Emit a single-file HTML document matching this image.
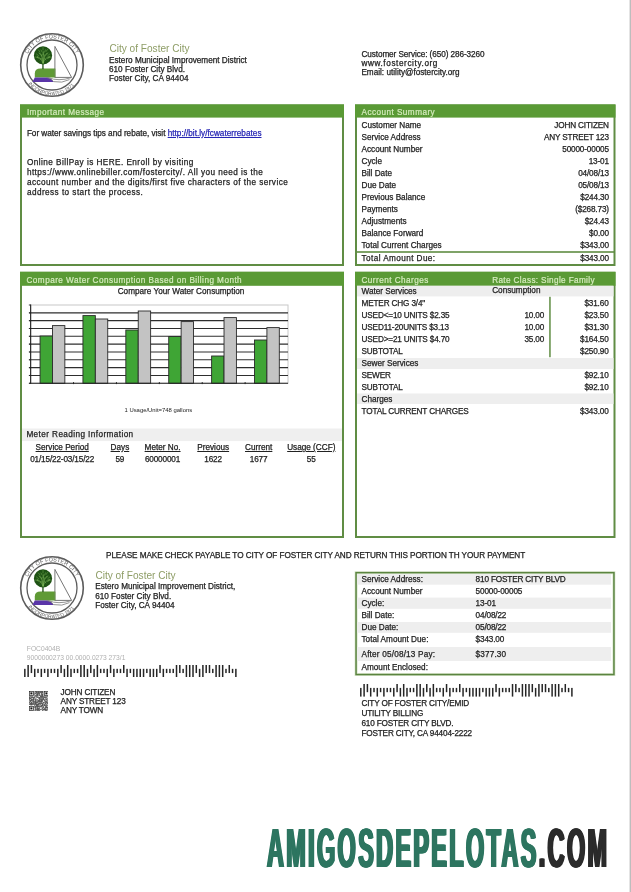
<!DOCTYPE html>
<html lang="en"><head><meta charset="utf-8"><title>City of Foster City - Utility Bill</title>
<style>
html,body{margin:0;padding:0;background:#fff;}
body{width:631px;height:892px;position:relative;overflow:hidden;font-family:"Liberation Sans",sans-serif;font-size:8.2px;color:#222;}
.t{position:absolute;white-space:nowrap;line-height:12px;-webkit-text-stroke:0.25px currentColor;}
.r{position:absolute;}
.lk{color:#2626b4;text-decoration:underline;}
.u{text-decoration:underline;}
.wm{position:absolute;left:266.7px;top:807.5px;font-weight:bold;font-size:56px;line-height:80px;letter-spacing:5.66px;white-space:nowrap;transform-origin:0 0;transform:scaleX(0.418);text-shadow:1.2px 0 0 currentColor,-1.2px 0 0 currentColor,2.43px 0 0 currentColor,-2.43px 0 0 currentColor;}
</style></head>
<body>
<svg class="r" style="left:0;top:0" width="631" height="892" viewBox="0 0 631 892"><rect x="21.00" y="105.50" width="322.00" height="159.50" fill="none" stroke="#608d44" stroke-width="2"/><rect x="20.00" y="104.40" width="324.00" height="13.20" fill="#5a9a35"/><rect x="356.00" y="105.50" width="258.50" height="159.50" fill="none" stroke="#608d44" stroke-width="2"/><rect x="355.00" y="104.40" width="260.50" height="13.20" fill="#5a9a35"/><rect x="356.00" y="251.20" width="258.50" height="1.60" fill="#608d44"/><rect x="21.00" y="272.80" width="322.00" height="264.20" fill="none" stroke="#608d44" stroke-width="2"/><rect x="20.00" y="271.80" width="324.00" height="14.00" fill="#5a9a35"/><rect x="22.00" y="428.50" width="320.00" height="12.60" fill="#efefef"/><rect x="356.00" y="272.80" width="258.50" height="264.20" fill="none" stroke="#608d44" stroke-width="2"/><rect x="355.00" y="271.80" width="260.50" height="14.00" fill="#5a9a35"/><rect x="357.00" y="285.80" width="256.50" height="10.60" fill="#eeeeee"/><rect x="357.00" y="358.00" width="256.50" height="11.00" fill="#eeeeee"/><rect x="357.00" y="393.50" width="256.50" height="10.50" fill="#eeeeee"/><rect x="549.20" y="296.80" width="1.50" height="60.40" fill="#608d44"/><rect x="356.10" y="572.70" width="257.80" height="101.80" fill="none" stroke="#dbe8cf" stroke-width="3"/><rect x="356.05" y="572.65" width="257.90" height="101.90" fill="none" stroke="#5b8440" stroke-width="1.5"/><rect x="357.00" y="574.00" width="254.00" height="10.70" fill="#eeeeee"/><rect x="357.00" y="597.60" width="254.00" height="11.20" fill="#eeeeee"/><rect x="357.00" y="622.00" width="254.00" height="10.80" fill="#eeeeee"/><rect x="357.00" y="647.00" width="254.00" height="14.00" fill="#eeeeee"/><rect x="629.00" y="0.00" width="1.00" height="892.00" fill="#e4e4e4"/><rect x="630.00" y="0.00" width="1.00" height="892.00" fill="#bdbdbd"/></svg>
<svg class="r" style="left:15.50px;top:28.90px" width="72" height="72" viewBox="-36 -36 72 72"><defs><path id="ta1" d="M-24.11,-11.24 A26.6,26.6 0 0 1 24.11,-11.24"/><path id="ba1" d="M-24.51,17.81 A30.3,30.3 0 0 0 23.21,19.48"/></defs><circle r="31.3" fill="#fff" stroke="#5c5c5c" stroke-width="1.6"/><circle r="25" fill="none" stroke="#5c5c5c" stroke-width="1.3"/><path d="M-17.2,12.4 V8.6 Q-17.2,3.6 -11.5,3.6 H3.2 V12.4 Z" fill="#5f9a35"/><path d="M-17.2,12.4 H-5.5 Q-1,12.6 1.6,16.9 H-19.6 Z" fill="#5a35a8"/><path d="M-5.5,12.4 Q-1,12.6 1.6,16.6 Q10,18.6 17.5,14.6" fill="none" stroke="#808080" stroke-width="0.85"/><path d="M-3.5,12.6 Q6,16.8 19.6,12.6" fill="none" stroke="#808080" stroke-width="0.85"/><path d="M2.9,12.4 V-18.6 L19.6,12.4 Z" fill="#fff" stroke="#777" stroke-width="1" stroke-linejoin="round"/><rect x="2.4" y="3.6" width="1" height="8.8" fill="#5f9a35"/><rect x="-9.7" y="-1.5" width="1.3" height="5.6" fill="#1f4f12"/><circle cx="-9" cy="-9.6" r="9.1" fill="#1e5214"/><path d="M-8.9,-2 Q-10.09,-7.02 -14.84,-8.70 M-8.9,-2 Q-9.56,-9.50 -12.20,-11.99 M-8.9,-2 Q-8.84,-10.40 -8.60,-13.20 M-8.9,-2 Q-8.12,-9.50 -5.00,-11.99 M-8.9,-2 Q-7.59,-7.02 -2.36,-8.70" fill="none" stroke="#7fb85a" stroke-width="0.7" stroke-linecap="round" opacity="0.85"/><path d="M-13,-12 l1.6,2 M-11,-15 l1.2,2.2 M-6.5,-15.2 l-1,2.4 M-4,-12 l-1.6,2 M-2.6,-7.5 l-2,1 M-14.8,-7.5 l2,1" fill="none" stroke="#7fb85a" stroke-width="0.6" stroke-linecap="round" opacity="0.8"/><path d="M-15.5,-11 l2,1.6 M-13.5,-15 l1.5,2 M-9,-17.5 l0,2.5 M-4.5,-15.5 l-1.4,2 M-2.2,-11 l-2,1.6 M-16.5,-8 l2.2,0.6 M-1.4,-8 l-2.2,0.6 M-12,-5 l1.4,-1.6 M-6,-5 l-1.4,-1.6 M-10.5,-9 l0.8,-2 M-7.5,-9 l-0.8,-2" fill="none" stroke="#8cc865" stroke-width="0.55" stroke-linecap="round" opacity="0.75"/><text font-family="Liberation Sans, sans-serif" font-size="5.5" fill="#5e5e5e" letter-spacing="0.05"><textPath href="#ta1" startOffset="50%" text-anchor="middle">CITY OF FOSTER CITY</textPath></text><text font-family="Liberation Sans, sans-serif" font-size="5.0" fill="#5e5e5e" letter-spacing="0"><textPath href="#ba1" startOffset="50%" text-anchor="middle">INCORPORATED 1971</textPath></text></svg>
<div class="t" style="top:43px;font-size:10.1px;color:#8e9d66;left:109.40px;-webkit-text-stroke:0;">City of Foster City</div>
<div class="t" style="top:55px;left:109.00px;">Estero Municipal Improvement District</div>
<div class="t" style="top:64px;left:109.00px;">610 Foster City Blvd.</div>
<div class="t" style="top:73px;left:109.00px;">Foster City, CA 94404</div>
<div class="t" style="top:49px;letter-spacing:-0.08px;left:361.40px;">Customer Service: (650) 286-3260</div>
<div class="t" style="top:58px;letter-spacing:0.6px;left:361.40px;">www.fostercity.org</div>
<div class="t" style="top:67px;left:361.40px;">Email: utility@fostercity.org</div>
<div class="t" style="top:107px;letter-spacing:0.45px;color:#d6ecbf;left:26.90px;-webkit-text-stroke:0.2px;">Important Message</div>
<div class="t" style="top:128px;letter-spacing:-0.03px;left:26.90px;">For water savings tips and rebate, visit <span class="lk" style="letter-spacing:0.02px">http://bit.ly/fcwaterrebates</span></div>
<div class="t" style="top:157px;letter-spacing:0.45px;left:26.90px;">Online BillPay is HERE. Enroll by visiting</div>
<div class="t" style="top:167px;letter-spacing:0.45px;left:26.90px;">https://www.onlinebiller.com/fostercity/. All you need is the</div>
<div class="t" style="top:177px;letter-spacing:0.45px;left:26.90px;">account number and the digits/first five characters of the service</div>
<div class="t" style="top:187px;letter-spacing:0.45px;left:26.90px;">address to start the process.</div>
<div class="t" style="top:107px;letter-spacing:0.45px;color:#d6ecbf;left:361.50px;-webkit-text-stroke:0.2px;">Account Summary</div>
<div class="t" style="top:120px;left:361.50px;">Customer Name</div>
<div class="t" style="top:120px;letter-spacing:-0.15px;right:22.15px;">JOHN CITIZEN</div>
<div class="t" style="top:132px;left:361.50px;">Service Address</div>
<div class="t" style="top:132px;letter-spacing:-0.15px;right:22.15px;">ANY STREET 123</div>
<div class="t" style="top:144px;left:361.50px;">Account Number</div>
<div class="t" style="top:144px;letter-spacing:-0.15px;right:22.15px;">50000-00005</div>
<div class="t" style="top:156px;left:361.50px;">Cycle</div>
<div class="t" style="top:156px;letter-spacing:-0.15px;right:22.15px;">13-01</div>
<div class="t" style="top:168px;left:361.50px;">Bill Date</div>
<div class="t" style="top:168px;letter-spacing:-0.15px;right:22.15px;">04/08/13</div>
<div class="t" style="top:180px;left:361.50px;">Due Date</div>
<div class="t" style="top:180px;letter-spacing:-0.15px;right:22.15px;">05/08/13</div>
<div class="t" style="top:192px;left:361.50px;">Previous Balance</div>
<div class="t" style="top:192px;letter-spacing:-0.15px;right:22.15px;">$244.30</div>
<div class="t" style="top:204px;left:361.50px;">Payments</div>
<div class="t" style="top:204px;letter-spacing:-0.15px;right:22.15px;">($268.73)</div>
<div class="t" style="top:216px;left:361.50px;">Adjustments</div>
<div class="t" style="top:216px;letter-spacing:-0.15px;right:22.15px;">$24.43</div>
<div class="t" style="top:228px;left:361.50px;">Balance Forward</div>
<div class="t" style="top:228px;letter-spacing:-0.15px;right:22.15px;">$0.00</div>
<div class="t" style="top:240px;left:361.50px;">Total Current Charges</div>
<div class="t" style="top:240px;letter-spacing:-0.15px;right:22.15px;">$343.00</div>
<div class="t" style="top:253px;letter-spacing:0.42px;left:361.50px;">Total Amount Due:</div>
<div class="t" style="top:253px;letter-spacing:-0.15px;right:22.15px;">$343.00</div>
<div class="t" style="top:275px;letter-spacing:0.45px;color:#d6ecbf;left:26.50px;-webkit-text-stroke:0.2px;">Compare Water Consumption Based on Billing Month</div>
<div class="t" style="top:286px;left:117.70px;">Compare Your Water Consumption</div>
<svg class="r" style="left:0;top:295px" width="344" height="100" viewBox="0 295 344 100" shape-rendering="auto"><rect x="30.65" y="305.0" width="257.35" height="78.30000000000001" fill="#fff" stroke="#c8c8c8" stroke-width="1"/><line x1="29.15" y1="312.83" x2="288.0" y2="312.83" stroke="#2e2e2e" stroke-width="1.1"/><line x1="29.15" y1="320.66" x2="288.0" y2="320.66" stroke="#2e2e2e" stroke-width="1.1"/><line x1="29.15" y1="328.49" x2="288.0" y2="328.49" stroke="#2e2e2e" stroke-width="1.1"/><line x1="29.15" y1="336.32" x2="288.0" y2="336.32" stroke="#2e2e2e" stroke-width="1.1"/><line x1="29.15" y1="344.15" x2="288.0" y2="344.15" stroke="#2e2e2e" stroke-width="1.1"/><line x1="29.15" y1="351.98" x2="288.0" y2="351.98" stroke="#2e2e2e" stroke-width="1.1"/><line x1="29.15" y1="359.81" x2="288.0" y2="359.81" stroke="#2e2e2e" stroke-width="1.1"/><line x1="29.15" y1="367.64" x2="288.0" y2="367.64" stroke="#2e2e2e" stroke-width="1.1"/><line x1="29.15" y1="375.47" x2="288.0" y2="375.47" stroke="#2e2e2e" stroke-width="1.1"/><rect x="40.05" y="336" width="12.4" height="47.30" fill="#3fa535" stroke="#2a2a2a" stroke-width="0.9"/><rect x="52.45" y="325.6" width="12.4" height="57.70" fill="#c3c3c3" stroke="#2a2a2a" stroke-width="0.9"/><rect x="82.94" y="315.6" width="12.4" height="67.70" fill="#3fa535" stroke="#2a2a2a" stroke-width="0.9"/><rect x="95.34" y="319" width="12.4" height="64.30" fill="#c3c3c3" stroke="#2a2a2a" stroke-width="0.9"/><rect x="125.83" y="330" width="12.4" height="53.30" fill="#3fa535" stroke="#2a2a2a" stroke-width="0.9"/><rect x="138.23" y="311" width="12.4" height="72.30" fill="#c3c3c3" stroke="#2a2a2a" stroke-width="0.9"/><rect x="168.73" y="336.5" width="12.4" height="46.80" fill="#3fa535" stroke="#2a2a2a" stroke-width="0.9"/><rect x="181.13" y="321.6" width="12.4" height="61.70" fill="#c3c3c3" stroke="#2a2a2a" stroke-width="0.9"/><rect x="211.62" y="356" width="12.4" height="27.30" fill="#3fa535" stroke="#2a2a2a" stroke-width="0.9"/><rect x="224.02" y="317.6" width="12.4" height="65.70" fill="#c3c3c3" stroke="#2a2a2a" stroke-width="0.9"/><rect x="254.51" y="340" width="12.4" height="43.30" fill="#3fa535" stroke="#2a2a2a" stroke-width="0.9"/><rect x="266.91" y="327.6" width="12.4" height="55.70" fill="#c3c3c3" stroke="#2a2a2a" stroke-width="0.9"/><line x1="30.65" y1="304.5" x2="30.65" y2="383.8" stroke="#222" stroke-width="1.1"/><line x1="29.15" y1="383.3" x2="288.0" y2="383.3" stroke="#222" stroke-width="1.1"/><line x1="28.849999999999998" y1="305.00" x2="30.65" y2="305.00" stroke="#222" stroke-width="0.9"/><line x1="28.849999999999998" y1="312.83" x2="30.65" y2="312.83" stroke="#222" stroke-width="0.9"/><line x1="28.849999999999998" y1="320.66" x2="30.65" y2="320.66" stroke="#222" stroke-width="0.9"/><line x1="28.849999999999998" y1="328.49" x2="30.65" y2="328.49" stroke="#222" stroke-width="0.9"/><line x1="28.849999999999998" y1="336.32" x2="30.65" y2="336.32" stroke="#222" stroke-width="0.9"/><line x1="28.849999999999998" y1="344.15" x2="30.65" y2="344.15" stroke="#222" stroke-width="0.9"/><line x1="28.849999999999998" y1="351.98" x2="30.65" y2="351.98" stroke="#222" stroke-width="0.9"/><line x1="28.849999999999998" y1="359.81" x2="30.65" y2="359.81" stroke="#222" stroke-width="0.9"/><line x1="28.849999999999998" y1="367.64" x2="30.65" y2="367.64" stroke="#222" stroke-width="0.9"/><line x1="28.849999999999998" y1="375.47" x2="30.65" y2="375.47" stroke="#222" stroke-width="0.9"/><line x1="28.849999999999998" y1="383.30" x2="30.65" y2="383.30" stroke="#222" stroke-width="0.9"/><line x1="73.54" y1="382.1" x2="73.54" y2="384.1" stroke="#222" stroke-width="1"/><line x1="116.43" y1="382.1" x2="116.43" y2="384.1" stroke="#222" stroke-width="1"/><line x1="159.33" y1="382.1" x2="159.33" y2="384.1" stroke="#222" stroke-width="1"/><line x1="202.22" y1="382.1" x2="202.22" y2="384.1" stroke="#222" stroke-width="1"/><line x1="245.11" y1="382.1" x2="245.11" y2="384.1" stroke="#222" stroke-width="1"/></svg>
<div class="t" style="top:404px;font-size:5.9px;left:124.50px;-webkit-text-stroke:0;">1 Usage/Unit=748 gallons</div>
<div class="t" style="top:429px;letter-spacing:0.41px;left:26.40px;">Meter Reading Information</div>
<div class="t" style="top:442px;left:-87.80px;width:300px;text-align:center;"><span class="u">Service Period</span></div>
<div class="t" style="top:454px;letter-spacing:-0.15px;left:-87.88px;width:300px;text-align:center;">01/15/22-03/15/22</div>
<div class="t" style="top:442px;left:-30.10px;width:300px;text-align:center;"><span class="u">Days</span></div>
<div class="t" style="top:454px;letter-spacing:-0.15px;left:-30.17px;width:300px;text-align:center;">59</div>
<div class="t" style="top:442px;left:12.60px;width:300px;text-align:center;"><span class="u">Meter No.</span></div>
<div class="t" style="top:454px;letter-spacing:-0.15px;left:12.52px;width:300px;text-align:center;">60000001</div>
<div class="t" style="top:442px;left:63.20px;width:300px;text-align:center;"><span class="u">Previous</span></div>
<div class="t" style="top:454px;letter-spacing:-0.15px;left:63.12px;width:300px;text-align:center;">1622</div>
<div class="t" style="top:442px;left:108.70px;width:300px;text-align:center;"><span class="u">Current</span></div>
<div class="t" style="top:454px;letter-spacing:-0.15px;left:108.62px;width:300px;text-align:center;">1677</div>
<div class="t" style="top:442px;left:161.30px;width:300px;text-align:center;"><span class="u">Usage (CCF)</span></div>
<div class="t" style="top:454px;letter-spacing:-0.15px;left:161.23px;width:300px;text-align:center;">55</div>
<div class="t" style="top:275px;letter-spacing:0.45px;color:#d6ecbf;left:361.50px;-webkit-text-stroke:0.2px;">Current Charges</div>
<div class="t" style="top:275px;letter-spacing:0.36px;color:#d6ecbf;left:492.20px;-webkit-text-stroke:0.2px;">Rate Class: Single Family</div>
<div class="t" style="top:285px;left:492.20px;">Consumption</div>
<div class="t" style="top:286px;left:361.50px;">Water Services</div>
<div class="t" style="top:298px;letter-spacing:-0.15px;left:361.50px;">METER CHG 3/4"</div>
<div class="t" style="top:298px;letter-spacing:-0.15px;right:22.45px;">$31.60</div>
<div class="t" style="top:310px;letter-spacing:-0.15px;left:361.50px;">USED&lt;=10 UNITS $2.35</div>
<div class="t" style="top:310px;letter-spacing:-0.15px;right:86.85px;">10.00</div>
<div class="t" style="top:310px;letter-spacing:-0.15px;right:22.45px;">$23.50</div>
<div class="t" style="top:322px;letter-spacing:-0.15px;left:361.50px;">USED11-20UNITS $3.13</div>
<div class="t" style="top:322px;letter-spacing:-0.15px;right:86.85px;">10.00</div>
<div class="t" style="top:322px;letter-spacing:-0.15px;right:22.45px;">$31.30</div>
<div class="t" style="top:334px;letter-spacing:-0.15px;left:361.50px;">USED&gt;=21 UNITS $4.70</div>
<div class="t" style="top:334px;letter-spacing:-0.15px;right:86.85px;">35.00</div>
<div class="t" style="top:334px;letter-spacing:-0.15px;right:22.45px;">$164.50</div>
<div class="t" style="top:346px;letter-spacing:-0.15px;left:361.50px;">SUBTOTAL</div>
<div class="t" style="top:346px;letter-spacing:-0.15px;right:22.45px;">$250.90</div>
<div class="t" style="top:358px;left:361.50px;">Sewer Services</div>
<div class="t" style="top:370px;letter-spacing:-0.15px;left:361.50px;">SEWER</div>
<div class="t" style="top:370px;letter-spacing:-0.15px;right:22.45px;">$92.10</div>
<div class="t" style="top:382px;letter-spacing:-0.15px;left:361.50px;">SUBTOTAL</div>
<div class="t" style="top:382px;letter-spacing:-0.15px;right:22.45px;">$92.10</div>
<div class="t" style="top:394px;left:361.50px;">Charges</div>
<div class="t" style="top:406px;letter-spacing:-0.15px;left:361.50px;">TOTAL CURRENT CHARGES</div>
<div class="t" style="top:406px;letter-spacing:-0.15px;right:22.45px;">$343.00</div>
<div class="t" style="top:550px;letter-spacing:-0.07px;left:106.00px;">PLEASE MAKE CHECK PAYABLE TO CITY OF FOSTER CITY AND RETURN THIS PORTION TH YOUR PAYMENT</div>
<svg class="r" style="left:15.50px;top:552.40px" width="72" height="72" viewBox="-36 -36 72 72"><defs><path id="ta2" d="M-24.11,-11.24 A26.6,26.6 0 0 1 24.11,-11.24"/><path id="ba2" d="M-24.51,17.81 A30.3,30.3 0 0 0 23.21,19.48"/></defs><circle r="31.3" fill="#fff" stroke="#5c5c5c" stroke-width="1.6"/><circle r="25" fill="none" stroke="#5c5c5c" stroke-width="1.3"/><path d="M-17.2,12.4 V8.6 Q-17.2,3.6 -11.5,3.6 H3.2 V12.4 Z" fill="#5f9a35"/><path d="M-17.2,12.4 H-5.5 Q-1,12.6 1.6,16.9 H-19.6 Z" fill="#5a35a8"/><path d="M-5.5,12.4 Q-1,12.6 1.6,16.6 Q10,18.6 17.5,14.6" fill="none" stroke="#808080" stroke-width="0.85"/><path d="M-3.5,12.6 Q6,16.8 19.6,12.6" fill="none" stroke="#808080" stroke-width="0.85"/><path d="M2.9,12.4 V-18.6 L19.6,12.4 Z" fill="#fff" stroke="#777" stroke-width="1" stroke-linejoin="round"/><rect x="2.4" y="3.6" width="1" height="8.8" fill="#5f9a35"/><rect x="-9.7" y="-1.5" width="1.3" height="5.6" fill="#1f4f12"/><circle cx="-9" cy="-9.6" r="9.1" fill="#1e5214"/><path d="M-8.9,-2 Q-10.09,-7.02 -14.84,-8.70 M-8.9,-2 Q-9.56,-9.50 -12.20,-11.99 M-8.9,-2 Q-8.84,-10.40 -8.60,-13.20 M-8.9,-2 Q-8.12,-9.50 -5.00,-11.99 M-8.9,-2 Q-7.59,-7.02 -2.36,-8.70" fill="none" stroke="#7fb85a" stroke-width="0.7" stroke-linecap="round" opacity="0.85"/><path d="M-13,-12 l1.6,2 M-11,-15 l1.2,2.2 M-6.5,-15.2 l-1,2.4 M-4,-12 l-1.6,2 M-2.6,-7.5 l-2,1 M-14.8,-7.5 l2,1" fill="none" stroke="#7fb85a" stroke-width="0.6" stroke-linecap="round" opacity="0.8"/><path d="M-15.5,-11 l2,1.6 M-13.5,-15 l1.5,2 M-9,-17.5 l0,2.5 M-4.5,-15.5 l-1.4,2 M-2.2,-11 l-2,1.6 M-16.5,-8 l2.2,0.6 M-1.4,-8 l-2.2,0.6 M-12,-5 l1.4,-1.6 M-6,-5 l-1.4,-1.6 M-10.5,-9 l0.8,-2 M-7.5,-9 l-0.8,-2" fill="none" stroke="#8cc865" stroke-width="0.55" stroke-linecap="round" opacity="0.75"/><text font-family="Liberation Sans, sans-serif" font-size="5.5" fill="#5e5e5e" letter-spacing="0.05"><textPath href="#ta2" startOffset="50%" text-anchor="middle">CITY OF FOSTER CITY</textPath></text><text font-family="Liberation Sans, sans-serif" font-size="5.0" fill="#5e5e5e" letter-spacing="0"><textPath href="#ba2" startOffset="50%" text-anchor="middle">INCORPORATED 1971</textPath></text></svg>
<div class="t" style="top:570px;font-size:10.1px;color:#8e9d66;left:95.40px;-webkit-text-stroke:0;">City of Foster City</div>
<div class="t" style="top:581px;left:95.20px;">Estero Municipal Improvement District,</div>
<div class="t" style="top:591px;left:95.20px;">610 Foster City Blvd.</div>
<div class="t" style="top:600px;left:95.20px;">Foster City, CA 94404</div>
<div class="t" style="top:574px;left:361.50px;">Service Address:</div>
<div class="t" style="top:574px;letter-spacing:-0.15px;left:475.60px;">810 FOSTER CITY BLVD</div>
<div class="t" style="top:586px;left:361.50px;">Account Number</div>
<div class="t" style="top:586px;letter-spacing:-0.15px;left:475.60px;">50000-00005</div>
<div class="t" style="top:598px;left:361.50px;">Cycle:</div>
<div class="t" style="top:598px;letter-spacing:-0.15px;left:475.60px;">13-01</div>
<div class="t" style="top:610px;left:361.50px;">Bill Date:</div>
<div class="t" style="top:610px;letter-spacing:-0.15px;left:475.60px;">04/08/22</div>
<div class="t" style="top:622px;left:361.50px;">Due Date:</div>
<div class="t" style="top:622px;letter-spacing:-0.15px;left:475.60px;">05/08/22</div>
<div class="t" style="top:634px;left:361.50px;">Total Amount Due:</div>
<div class="t" style="top:634px;letter-spacing:-0.15px;left:475.60px;">$343.00</div>
<div class="t" style="top:649px;letter-spacing:0.19px;left:361.50px;">After 05/08/13 Pay:</div>
<div class="t" style="top:649px;letter-spacing:0.15px;left:475.60px;">$377.30</div>
<div class="t" style="top:662px;left:361.50px;">Amount Enclosed:</div>
<div class="t" style="top:643px;font-size:6.7px;color:#b0b0b0;left:26.80px;-webkit-text-stroke:0;">FOC0404B</div>
<div class="t" style="top:652px;font-size:6.7px;color:#b0b0b0;left:26.80px;-webkit-text-stroke:0;">9000000273 00.0000.0273 273/1</div>
<svg class="r" style="left:24.20px;top:665.00px" width="214" height="12.40" viewBox="0 0 214 12.40"><rect x="0.00" y="3.84" width="1.5" height="8.56" fill="#262626"/><rect x="3.30" y="0.00" width="1.5" height="12.40" fill="#262626"/><rect x="6.60" y="0.00" width="1.5" height="8.06" fill="#262626"/><rect x="9.90" y="3.84" width="1.5" height="8.56" fill="#262626"/><rect x="13.20" y="3.84" width="1.5" height="4.22" fill="#262626"/><rect x="16.50" y="3.84" width="1.5" height="8.56" fill="#262626"/><rect x="19.80" y="3.84" width="1.5" height="4.22" fill="#262626"/><rect x="23.10" y="3.84" width="1.5" height="8.56" fill="#262626"/><rect x="26.40" y="3.84" width="1.5" height="4.22" fill="#262626"/><rect x="29.70" y="3.84" width="1.5" height="4.22" fill="#262626"/><rect x="33.00" y="3.84" width="1.5" height="8.56" fill="#262626"/><rect x="36.30" y="0.00" width="1.5" height="8.06" fill="#262626"/><rect x="39.60" y="3.84" width="1.5" height="8.56" fill="#262626"/><rect x="42.90" y="0.00" width="1.5" height="12.40" fill="#262626"/><rect x="46.20" y="3.84" width="1.5" height="8.56" fill="#262626"/><rect x="49.50" y="3.84" width="1.5" height="4.22" fill="#262626"/><rect x="52.80" y="3.84" width="1.5" height="4.22" fill="#262626"/><rect x="56.10" y="0.00" width="1.5" height="12.40" fill="#262626"/><rect x="59.40" y="0.00" width="1.5" height="12.40" fill="#262626"/><rect x="62.70" y="3.84" width="1.5" height="8.56" fill="#262626"/><rect x="66.00" y="0.00" width="1.5" height="8.06" fill="#262626"/><rect x="69.30" y="3.84" width="1.5" height="8.56" fill="#262626"/><rect x="72.60" y="0.00" width="1.5" height="12.40" fill="#262626"/><rect x="75.90" y="3.84" width="1.5" height="4.22" fill="#262626"/><rect x="79.20" y="3.84" width="1.5" height="4.22" fill="#262626"/><rect x="82.50" y="3.84" width="1.5" height="8.56" fill="#262626"/><rect x="85.80" y="0.00" width="1.5" height="8.06" fill="#262626"/><rect x="89.10" y="3.84" width="1.5" height="8.56" fill="#262626"/><rect x="92.40" y="3.84" width="1.5" height="4.22" fill="#262626"/><rect x="95.70" y="3.84" width="1.5" height="4.22" fill="#262626"/><rect x="99.00" y="0.00" width="1.5" height="8.06" fill="#262626"/><rect x="102.30" y="3.84" width="1.5" height="8.56" fill="#262626"/><rect x="105.60" y="3.84" width="1.5" height="4.22" fill="#262626"/><rect x="108.90" y="3.84" width="1.5" height="8.56" fill="#262626"/><rect x="112.20" y="3.84" width="1.5" height="8.56" fill="#262626"/><rect x="115.50" y="3.84" width="1.5" height="8.56" fill="#262626"/><rect x="118.80" y="3.84" width="1.5" height="8.56" fill="#262626"/><rect x="122.10" y="3.84" width="1.5" height="4.22" fill="#262626"/><rect x="125.40" y="3.84" width="1.5" height="8.56" fill="#262626"/><rect x="128.70" y="3.84" width="1.5" height="8.56" fill="#262626"/><rect x="132.00" y="3.84" width="1.5" height="8.56" fill="#262626"/><rect x="135.30" y="0.00" width="1.5" height="8.06" fill="#262626"/><rect x="138.60" y="3.84" width="1.5" height="8.56" fill="#262626"/><rect x="141.90" y="3.84" width="1.5" height="4.22" fill="#262626"/><rect x="145.20" y="3.84" width="1.5" height="4.22" fill="#262626"/><rect x="148.50" y="3.84" width="1.5" height="4.22" fill="#262626"/><rect x="151.80" y="0.00" width="1.5" height="12.40" fill="#262626"/><rect x="155.10" y="0.00" width="1.5" height="8.06" fill="#262626"/><rect x="158.40" y="3.84" width="1.5" height="4.22" fill="#262626"/><rect x="161.70" y="0.00" width="1.5" height="12.40" fill="#262626"/><rect x="165.00" y="0.00" width="1.5" height="12.40" fill="#262626"/><rect x="168.30" y="0.00" width="1.5" height="12.40" fill="#262626"/><rect x="171.60" y="0.00" width="1.5" height="8.06" fill="#262626"/><rect x="174.90" y="3.84" width="1.5" height="8.56" fill="#262626"/><rect x="178.20" y="0.00" width="1.5" height="12.40" fill="#262626"/><rect x="181.50" y="0.00" width="1.5" height="8.06" fill="#262626"/><rect x="184.80" y="0.00" width="1.5" height="8.06" fill="#262626"/><rect x="188.10" y="3.84" width="1.5" height="4.22" fill="#262626"/><rect x="191.40" y="0.00" width="1.5" height="12.40" fill="#262626"/><rect x="194.70" y="0.00" width="1.5" height="12.40" fill="#262626"/><rect x="198.00" y="0.00" width="1.5" height="12.40" fill="#262626"/><rect x="201.30" y="3.84" width="1.5" height="4.22" fill="#262626"/><rect x="204.60" y="0.00" width="1.5" height="8.06" fill="#262626"/><rect x="207.90" y="3.84" width="1.5" height="4.22" fill="#262626"/><rect x="211.20" y="3.84" width="1.5" height="8.56" fill="#262626"/></svg>
<svg class="r" style="left:359.60px;top:684.20px" width="214" height="12.60" viewBox="0 0 214 12.60"><rect x="0.00" y="3.91" width="1.5" height="8.69" fill="#262626"/><rect x="3.30" y="0.00" width="1.5" height="12.60" fill="#262626"/><rect x="6.60" y="0.00" width="1.5" height="8.19" fill="#262626"/><rect x="9.90" y="3.91" width="1.5" height="8.69" fill="#262626"/><rect x="13.20" y="3.91" width="1.5" height="4.28" fill="#262626"/><rect x="16.50" y="3.91" width="1.5" height="8.69" fill="#262626"/><rect x="19.80" y="3.91" width="1.5" height="4.28" fill="#262626"/><rect x="23.10" y="3.91" width="1.5" height="8.69" fill="#262626"/><rect x="26.40" y="3.91" width="1.5" height="4.28" fill="#262626"/><rect x="29.70" y="3.91" width="1.5" height="4.28" fill="#262626"/><rect x="33.00" y="3.91" width="1.5" height="8.69" fill="#262626"/><rect x="36.30" y="0.00" width="1.5" height="8.19" fill="#262626"/><rect x="39.60" y="3.91" width="1.5" height="8.69" fill="#262626"/><rect x="42.90" y="0.00" width="1.5" height="12.60" fill="#262626"/><rect x="46.20" y="3.91" width="1.5" height="8.69" fill="#262626"/><rect x="49.50" y="3.91" width="1.5" height="4.28" fill="#262626"/><rect x="52.80" y="3.91" width="1.5" height="4.28" fill="#262626"/><rect x="56.10" y="0.00" width="1.5" height="12.60" fill="#262626"/><rect x="59.40" y="0.00" width="1.5" height="12.60" fill="#262626"/><rect x="62.70" y="3.91" width="1.5" height="8.69" fill="#262626"/><rect x="66.00" y="0.00" width="1.5" height="8.19" fill="#262626"/><rect x="69.30" y="3.91" width="1.5" height="8.69" fill="#262626"/><rect x="72.60" y="0.00" width="1.5" height="12.60" fill="#262626"/><rect x="75.90" y="3.91" width="1.5" height="4.28" fill="#262626"/><rect x="79.20" y="3.91" width="1.5" height="4.28" fill="#262626"/><rect x="82.50" y="3.91" width="1.5" height="8.69" fill="#262626"/><rect x="85.80" y="0.00" width="1.5" height="8.19" fill="#262626"/><rect x="89.10" y="3.91" width="1.5" height="8.69" fill="#262626"/><rect x="92.40" y="3.91" width="1.5" height="4.28" fill="#262626"/><rect x="95.70" y="3.91" width="1.5" height="4.28" fill="#262626"/><rect x="99.00" y="0.00" width="1.5" height="8.19" fill="#262626"/><rect x="102.30" y="3.91" width="1.5" height="8.69" fill="#262626"/><rect x="105.60" y="3.91" width="1.5" height="4.28" fill="#262626"/><rect x="108.90" y="3.91" width="1.5" height="8.69" fill="#262626"/><rect x="112.20" y="3.91" width="1.5" height="8.69" fill="#262626"/><rect x="115.50" y="3.91" width="1.5" height="8.69" fill="#262626"/><rect x="118.80" y="3.91" width="1.5" height="8.69" fill="#262626"/><rect x="122.10" y="3.91" width="1.5" height="4.28" fill="#262626"/><rect x="125.40" y="3.91" width="1.5" height="8.69" fill="#262626"/><rect x="128.70" y="3.91" width="1.5" height="8.69" fill="#262626"/><rect x="132.00" y="3.91" width="1.5" height="8.69" fill="#262626"/><rect x="135.30" y="0.00" width="1.5" height="8.19" fill="#262626"/><rect x="138.60" y="3.91" width="1.5" height="8.69" fill="#262626"/><rect x="141.90" y="3.91" width="1.5" height="4.28" fill="#262626"/><rect x="145.20" y="3.91" width="1.5" height="4.28" fill="#262626"/><rect x="148.50" y="3.91" width="1.5" height="4.28" fill="#262626"/><rect x="151.80" y="0.00" width="1.5" height="12.60" fill="#262626"/><rect x="155.10" y="0.00" width="1.5" height="8.19" fill="#262626"/><rect x="158.40" y="3.91" width="1.5" height="4.28" fill="#262626"/><rect x="161.70" y="0.00" width="1.5" height="12.60" fill="#262626"/><rect x="165.00" y="0.00" width="1.5" height="12.60" fill="#262626"/><rect x="168.30" y="0.00" width="1.5" height="12.60" fill="#262626"/><rect x="171.60" y="0.00" width="1.5" height="8.19" fill="#262626"/><rect x="174.90" y="3.91" width="1.5" height="8.69" fill="#262626"/><rect x="178.20" y="0.00" width="1.5" height="12.60" fill="#262626"/><rect x="181.50" y="0.00" width="1.5" height="8.19" fill="#262626"/><rect x="184.80" y="0.00" width="1.5" height="8.19" fill="#262626"/><rect x="188.10" y="3.91" width="1.5" height="4.28" fill="#262626"/><rect x="191.40" y="0.00" width="1.5" height="12.60" fill="#262626"/><rect x="194.70" y="0.00" width="1.5" height="12.60" fill="#262626"/><rect x="198.00" y="0.00" width="1.5" height="12.60" fill="#262626"/><rect x="201.30" y="3.91" width="1.5" height="4.28" fill="#262626"/><rect x="204.60" y="0.00" width="1.5" height="8.19" fill="#262626"/><rect x="207.90" y="3.91" width="1.5" height="4.28" fill="#262626"/><rect x="211.20" y="3.91" width="1.5" height="8.69" fill="#262626"/></svg>
<svg class="r" style="left:28.6px;top:690.8px" width="19.8" height="19.8" viewBox="0 0 29 29"><rect x="8" y="0" width="1" height="1" fill="#111"/><rect x="9" y="0" width="1" height="1" fill="#111"/><rect x="10" y="0" width="1" height="1" fill="#111"/><rect x="11" y="0" width="1" height="1" fill="#111"/><rect x="12" y="0" width="1" height="1" fill="#111"/><rect x="13" y="0" width="1" height="1" fill="#111"/><rect x="14" y="0" width="1" height="1" fill="#111"/><rect x="15" y="0" width="1" height="1" fill="#111"/><rect x="16" y="0" width="1" height="1" fill="#111"/><rect x="17" y="0" width="1" height="1" fill="#111"/><rect x="18" y="0" width="1" height="1" fill="#111"/><rect x="19" y="0" width="1" height="1" fill="#111"/><rect x="20" y="0" width="1" height="1" fill="#111"/><rect x="9" y="1" width="1" height="1" fill="#111"/><rect x="10" y="1" width="1" height="1" fill="#111"/><rect x="11" y="1" width="1" height="1" fill="#111"/><rect x="13" y="1" width="1" height="1" fill="#111"/><rect x="14" y="1" width="1" height="1" fill="#111"/><rect x="16" y="1" width="1" height="1" fill="#111"/><rect x="18" y="1" width="1" height="1" fill="#111"/><rect x="19" y="1" width="1" height="1" fill="#111"/><rect x="20" y="1" width="1" height="1" fill="#111"/><rect x="8" y="2" width="1" height="1" fill="#111"/><rect x="10" y="2" width="1" height="1" fill="#111"/><rect x="11" y="2" width="1" height="1" fill="#111"/><rect x="12" y="2" width="1" height="1" fill="#111"/><rect x="13" y="2" width="1" height="1" fill="#111"/><rect x="14" y="2" width="1" height="1" fill="#111"/><rect x="15" y="2" width="1" height="1" fill="#111"/><rect x="16" y="2" width="1" height="1" fill="#111"/><rect x="17" y="2" width="1" height="1" fill="#111"/><rect x="18" y="2" width="1" height="1" fill="#111"/><rect x="19" y="2" width="1" height="1" fill="#111"/><rect x="20" y="2" width="1" height="1" fill="#111"/><rect x="8" y="3" width="1" height="1" fill="#111"/><rect x="9" y="3" width="1" height="1" fill="#111"/><rect x="10" y="3" width="1" height="1" fill="#111"/><rect x="12" y="3" width="1" height="1" fill="#111"/><rect x="13" y="3" width="1" height="1" fill="#111"/><rect x="14" y="3" width="1" height="1" fill="#111"/><rect x="15" y="3" width="1" height="1" fill="#111"/><rect x="18" y="3" width="1" height="1" fill="#111"/><rect x="20" y="3" width="1" height="1" fill="#111"/><rect x="8" y="4" width="1" height="1" fill="#111"/><rect x="10" y="4" width="1" height="1" fill="#111"/><rect x="11" y="4" width="1" height="1" fill="#111"/><rect x="12" y="4" width="1" height="1" fill="#111"/><rect x="13" y="4" width="1" height="1" fill="#111"/><rect x="15" y="4" width="1" height="1" fill="#111"/><rect x="17" y="4" width="1" height="1" fill="#111"/><rect x="18" y="4" width="1" height="1" fill="#111"/><rect x="19" y="4" width="1" height="1" fill="#111"/><rect x="20" y="4" width="1" height="1" fill="#111"/><rect x="8" y="5" width="1" height="1" fill="#111"/><rect x="11" y="5" width="1" height="1" fill="#111"/><rect x="12" y="5" width="1" height="1" fill="#111"/><rect x="13" y="5" width="1" height="1" fill="#111"/><rect x="15" y="5" width="1" height="1" fill="#111"/><rect x="18" y="5" width="1" height="1" fill="#111"/><rect x="19" y="5" width="1" height="1" fill="#111"/><rect x="20" y="5" width="1" height="1" fill="#111"/><rect x="8" y="6" width="1" height="1" fill="#111"/><rect x="9" y="6" width="1" height="1" fill="#111"/><rect x="10" y="6" width="1" height="1" fill="#111"/><rect x="11" y="6" width="1" height="1" fill="#111"/><rect x="12" y="6" width="1" height="1" fill="#111"/><rect x="14" y="6" width="1" height="1" fill="#111"/><rect x="15" y="6" width="1" height="1" fill="#111"/><rect x="16" y="6" width="1" height="1" fill="#111"/><rect x="18" y="6" width="1" height="1" fill="#111"/><rect x="19" y="6" width="1" height="1" fill="#111"/><rect x="20" y="6" width="1" height="1" fill="#111"/><rect x="11" y="7" width="1" height="1" fill="#111"/><rect x="12" y="7" width="1" height="1" fill="#111"/><rect x="13" y="7" width="1" height="1" fill="#111"/><rect x="16" y="7" width="1" height="1" fill="#111"/><rect x="17" y="7" width="1" height="1" fill="#111"/><rect x="18" y="7" width="1" height="1" fill="#111"/><rect x="19" y="7" width="1" height="1" fill="#111"/><rect x="20" y="7" width="1" height="1" fill="#111"/><rect x="0" y="8" width="1" height="1" fill="#111"/><rect x="1" y="8" width="1" height="1" fill="#111"/><rect x="2" y="8" width="1" height="1" fill="#111"/><rect x="3" y="8" width="1" height="1" fill="#111"/><rect x="4" y="8" width="1" height="1" fill="#111"/><rect x="5" y="8" width="1" height="1" fill="#111"/><rect x="7" y="8" width="1" height="1" fill="#111"/><rect x="8" y="8" width="1" height="1" fill="#111"/><rect x="9" y="8" width="1" height="1" fill="#111"/><rect x="10" y="8" width="1" height="1" fill="#111"/><rect x="11" y="8" width="1" height="1" fill="#111"/><rect x="16" y="8" width="1" height="1" fill="#111"/><rect x="17" y="8" width="1" height="1" fill="#111"/><rect x="18" y="8" width="1" height="1" fill="#111"/><rect x="19" y="8" width="1" height="1" fill="#111"/><rect x="20" y="8" width="1" height="1" fill="#111"/><rect x="21" y="8" width="1" height="1" fill="#111"/><rect x="22" y="8" width="1" height="1" fill="#111"/><rect x="23" y="8" width="1" height="1" fill="#111"/><rect x="24" y="8" width="1" height="1" fill="#111"/><rect x="25" y="8" width="1" height="1" fill="#111"/><rect x="26" y="8" width="1" height="1" fill="#111"/><rect x="27" y="8" width="1" height="1" fill="#111"/><rect x="28" y="8" width="1" height="1" fill="#111"/><rect x="0" y="9" width="1" height="1" fill="#111"/><rect x="1" y="9" width="1" height="1" fill="#111"/><rect x="3" y="9" width="1" height="1" fill="#111"/><rect x="4" y="9" width="1" height="1" fill="#111"/><rect x="5" y="9" width="1" height="1" fill="#111"/><rect x="6" y="9" width="1" height="1" fill="#111"/><rect x="7" y="9" width="1" height="1" fill="#111"/><rect x="8" y="9" width="1" height="1" fill="#111"/><rect x="11" y="9" width="1" height="1" fill="#111"/><rect x="12" y="9" width="1" height="1" fill="#111"/><rect x="13" y="9" width="1" height="1" fill="#111"/><rect x="14" y="9" width="1" height="1" fill="#111"/><rect x="15" y="9" width="1" height="1" fill="#111"/><rect x="16" y="9" width="1" height="1" fill="#111"/><rect x="18" y="9" width="1" height="1" fill="#111"/><rect x="19" y="9" width="1" height="1" fill="#111"/><rect x="21" y="9" width="1" height="1" fill="#111"/><rect x="22" y="9" width="1" height="1" fill="#111"/><rect x="23" y="9" width="1" height="1" fill="#111"/><rect x="24" y="9" width="1" height="1" fill="#111"/><rect x="25" y="9" width="1" height="1" fill="#111"/><rect x="28" y="9" width="1" height="1" fill="#111"/><rect x="0" y="10" width="1" height="1" fill="#111"/><rect x="1" y="10" width="1" height="1" fill="#111"/><rect x="2" y="10" width="1" height="1" fill="#111"/><rect x="4" y="10" width="1" height="1" fill="#111"/><rect x="6" y="10" width="1" height="1" fill="#111"/><rect x="7" y="10" width="1" height="1" fill="#111"/><rect x="14" y="10" width="1" height="1" fill="#111"/><rect x="15" y="10" width="1" height="1" fill="#111"/><rect x="16" y="10" width="1" height="1" fill="#111"/><rect x="17" y="10" width="1" height="1" fill="#111"/><rect x="18" y="10" width="1" height="1" fill="#111"/><rect x="19" y="10" width="1" height="1" fill="#111"/><rect x="20" y="10" width="1" height="1" fill="#111"/><rect x="21" y="10" width="1" height="1" fill="#111"/><rect x="23" y="10" width="1" height="1" fill="#111"/><rect x="27" y="10" width="1" height="1" fill="#111"/><rect x="28" y="10" width="1" height="1" fill="#111"/><rect x="0" y="11" width="1" height="1" fill="#111"/><rect x="1" y="11" width="1" height="1" fill="#111"/><rect x="2" y="11" width="1" height="1" fill="#111"/><rect x="3" y="11" width="1" height="1" fill="#111"/><rect x="6" y="11" width="1" height="1" fill="#111"/><rect x="7" y="11" width="1" height="1" fill="#111"/><rect x="9" y="11" width="1" height="1" fill="#111"/><rect x="10" y="11" width="1" height="1" fill="#111"/><rect x="14" y="11" width="1" height="1" fill="#111"/><rect x="15" y="11" width="1" height="1" fill="#111"/><rect x="17" y="11" width="1" height="1" fill="#111"/><rect x="20" y="11" width="1" height="1" fill="#111"/><rect x="21" y="11" width="1" height="1" fill="#111"/><rect x="24" y="11" width="1" height="1" fill="#111"/><rect x="25" y="11" width="1" height="1" fill="#111"/><rect x="26" y="11" width="1" height="1" fill="#111"/><rect x="0" y="12" width="1" height="1" fill="#111"/><rect x="3" y="12" width="1" height="1" fill="#111"/><rect x="4" y="12" width="1" height="1" fill="#111"/><rect x="5" y="12" width="1" height="1" fill="#111"/><rect x="6" y="12" width="1" height="1" fill="#111"/><rect x="7" y="12" width="1" height="1" fill="#111"/><rect x="9" y="12" width="1" height="1" fill="#111"/><rect x="10" y="12" width="1" height="1" fill="#111"/><rect x="12" y="12" width="1" height="1" fill="#111"/><rect x="15" y="12" width="1" height="1" fill="#111"/><rect x="16" y="12" width="1" height="1" fill="#111"/><rect x="17" y="12" width="1" height="1" fill="#111"/><rect x="18" y="12" width="1" height="1" fill="#111"/><rect x="19" y="12" width="1" height="1" fill="#111"/><rect x="20" y="12" width="1" height="1" fill="#111"/><rect x="21" y="12" width="1" height="1" fill="#111"/><rect x="22" y="12" width="1" height="1" fill="#111"/><rect x="24" y="12" width="1" height="1" fill="#111"/><rect x="25" y="12" width="1" height="1" fill="#111"/><rect x="26" y="12" width="1" height="1" fill="#111"/><rect x="28" y="12" width="1" height="1" fill="#111"/><rect x="1" y="13" width="1" height="1" fill="#111"/><rect x="2" y="13" width="1" height="1" fill="#111"/><rect x="3" y="13" width="1" height="1" fill="#111"/><rect x="4" y="13" width="1" height="1" fill="#111"/><rect x="5" y="13" width="1" height="1" fill="#111"/><rect x="6" y="13" width="1" height="1" fill="#111"/><rect x="7" y="13" width="1" height="1" fill="#111"/><rect x="9" y="13" width="1" height="1" fill="#111"/><rect x="10" y="13" width="1" height="1" fill="#111"/><rect x="12" y="13" width="1" height="1" fill="#111"/><rect x="13" y="13" width="1" height="1" fill="#111"/><rect x="14" y="13" width="1" height="1" fill="#111"/><rect x="15" y="13" width="1" height="1" fill="#111"/><rect x="17" y="13" width="1" height="1" fill="#111"/><rect x="18" y="13" width="1" height="1" fill="#111"/><rect x="19" y="13" width="1" height="1" fill="#111"/><rect x="20" y="13" width="1" height="1" fill="#111"/><rect x="22" y="13" width="1" height="1" fill="#111"/><rect x="23" y="13" width="1" height="1" fill="#111"/><rect x="26" y="13" width="1" height="1" fill="#111"/><rect x="27" y="13" width="1" height="1" fill="#111"/><rect x="28" y="13" width="1" height="1" fill="#111"/><rect x="0" y="14" width="1" height="1" fill="#111"/><rect x="1" y="14" width="1" height="1" fill="#111"/><rect x="2" y="14" width="1" height="1" fill="#111"/><rect x="3" y="14" width="1" height="1" fill="#111"/><rect x="4" y="14" width="1" height="1" fill="#111"/><rect x="6" y="14" width="1" height="1" fill="#111"/><rect x="9" y="14" width="1" height="1" fill="#111"/><rect x="10" y="14" width="1" height="1" fill="#111"/><rect x="13" y="14" width="1" height="1" fill="#111"/><rect x="14" y="14" width="1" height="1" fill="#111"/><rect x="15" y="14" width="1" height="1" fill="#111"/><rect x="16" y="14" width="1" height="1" fill="#111"/><rect x="17" y="14" width="1" height="1" fill="#111"/><rect x="18" y="14" width="1" height="1" fill="#111"/><rect x="19" y="14" width="1" height="1" fill="#111"/><rect x="22" y="14" width="1" height="1" fill="#111"/><rect x="24" y="14" width="1" height="1" fill="#111"/><rect x="25" y="14" width="1" height="1" fill="#111"/><rect x="28" y="14" width="1" height="1" fill="#111"/><rect x="1" y="15" width="1" height="1" fill="#111"/><rect x="2" y="15" width="1" height="1" fill="#111"/><rect x="5" y="15" width="1" height="1" fill="#111"/><rect x="6" y="15" width="1" height="1" fill="#111"/><rect x="7" y="15" width="1" height="1" fill="#111"/><rect x="8" y="15" width="1" height="1" fill="#111"/><rect x="9" y="15" width="1" height="1" fill="#111"/><rect x="10" y="15" width="1" height="1" fill="#111"/><rect x="12" y="15" width="1" height="1" fill="#111"/><rect x="13" y="15" width="1" height="1" fill="#111"/><rect x="14" y="15" width="1" height="1" fill="#111"/><rect x="15" y="15" width="1" height="1" fill="#111"/><rect x="16" y="15" width="1" height="1" fill="#111"/><rect x="17" y="15" width="1" height="1" fill="#111"/><rect x="18" y="15" width="1" height="1" fill="#111"/><rect x="19" y="15" width="1" height="1" fill="#111"/><rect x="23" y="15" width="1" height="1" fill="#111"/><rect x="24" y="15" width="1" height="1" fill="#111"/><rect x="25" y="15" width="1" height="1" fill="#111"/><rect x="27" y="15" width="1" height="1" fill="#111"/><rect x="28" y="15" width="1" height="1" fill="#111"/><rect x="0" y="16" width="1" height="1" fill="#111"/><rect x="3" y="16" width="1" height="1" fill="#111"/><rect x="4" y="16" width="1" height="1" fill="#111"/><rect x="6" y="16" width="1" height="1" fill="#111"/><rect x="8" y="16" width="1" height="1" fill="#111"/><rect x="9" y="16" width="1" height="1" fill="#111"/><rect x="10" y="16" width="1" height="1" fill="#111"/><rect x="11" y="16" width="1" height="1" fill="#111"/><rect x="12" y="16" width="1" height="1" fill="#111"/><rect x="14" y="16" width="1" height="1" fill="#111"/><rect x="16" y="16" width="1" height="1" fill="#111"/><rect x="18" y="16" width="1" height="1" fill="#111"/><rect x="20" y="16" width="1" height="1" fill="#111"/><rect x="21" y="16" width="1" height="1" fill="#111"/><rect x="22" y="16" width="1" height="1" fill="#111"/><rect x="24" y="16" width="1" height="1" fill="#111"/><rect x="25" y="16" width="1" height="1" fill="#111"/><rect x="26" y="16" width="1" height="1" fill="#111"/><rect x="27" y="16" width="1" height="1" fill="#111"/><rect x="28" y="16" width="1" height="1" fill="#111"/><rect x="0" y="17" width="1" height="1" fill="#111"/><rect x="1" y="17" width="1" height="1" fill="#111"/><rect x="2" y="17" width="1" height="1" fill="#111"/><rect x="3" y="17" width="1" height="1" fill="#111"/><rect x="4" y="17" width="1" height="1" fill="#111"/><rect x="6" y="17" width="1" height="1" fill="#111"/><rect x="7" y="17" width="1" height="1" fill="#111"/><rect x="8" y="17" width="1" height="1" fill="#111"/><rect x="9" y="17" width="1" height="1" fill="#111"/><rect x="10" y="17" width="1" height="1" fill="#111"/><rect x="11" y="17" width="1" height="1" fill="#111"/><rect x="12" y="17" width="1" height="1" fill="#111"/><rect x="14" y="17" width="1" height="1" fill="#111"/><rect x="15" y="17" width="1" height="1" fill="#111"/><rect x="16" y="17" width="1" height="1" fill="#111"/><rect x="18" y="17" width="1" height="1" fill="#111"/><rect x="20" y="17" width="1" height="1" fill="#111"/><rect x="21" y="17" width="1" height="1" fill="#111"/><rect x="23" y="17" width="1" height="1" fill="#111"/><rect x="24" y="17" width="1" height="1" fill="#111"/><rect x="25" y="17" width="1" height="1" fill="#111"/><rect x="27" y="17" width="1" height="1" fill="#111"/><rect x="1" y="18" width="1" height="1" fill="#111"/><rect x="2" y="18" width="1" height="1" fill="#111"/><rect x="3" y="18" width="1" height="1" fill="#111"/><rect x="4" y="18" width="1" height="1" fill="#111"/><rect x="5" y="18" width="1" height="1" fill="#111"/><rect x="6" y="18" width="1" height="1" fill="#111"/><rect x="8" y="18" width="1" height="1" fill="#111"/><rect x="9" y="18" width="1" height="1" fill="#111"/><rect x="10" y="18" width="1" height="1" fill="#111"/><rect x="13" y="18" width="1" height="1" fill="#111"/><rect x="14" y="18" width="1" height="1" fill="#111"/><rect x="15" y="18" width="1" height="1" fill="#111"/><rect x="16" y="18" width="1" height="1" fill="#111"/><rect x="17" y="18" width="1" height="1" fill="#111"/><rect x="18" y="18" width="1" height="1" fill="#111"/><rect x="19" y="18" width="1" height="1" fill="#111"/><rect x="20" y="18" width="1" height="1" fill="#111"/><rect x="23" y="18" width="1" height="1" fill="#111"/><rect x="24" y="18" width="1" height="1" fill="#111"/><rect x="26" y="18" width="1" height="1" fill="#111"/><rect x="27" y="18" width="1" height="1" fill="#111"/><rect x="28" y="18" width="1" height="1" fill="#111"/><rect x="0" y="19" width="1" height="1" fill="#111"/><rect x="1" y="19" width="1" height="1" fill="#111"/><rect x="2" y="19" width="1" height="1" fill="#111"/><rect x="3" y="19" width="1" height="1" fill="#111"/><rect x="4" y="19" width="1" height="1" fill="#111"/><rect x="5" y="19" width="1" height="1" fill="#111"/><rect x="6" y="19" width="1" height="1" fill="#111"/><rect x="7" y="19" width="1" height="1" fill="#111"/><rect x="8" y="19" width="1" height="1" fill="#111"/><rect x="9" y="19" width="1" height="1" fill="#111"/><rect x="10" y="19" width="1" height="1" fill="#111"/><rect x="11" y="19" width="1" height="1" fill="#111"/><rect x="12" y="19" width="1" height="1" fill="#111"/><rect x="13" y="19" width="1" height="1" fill="#111"/><rect x="14" y="19" width="1" height="1" fill="#111"/><rect x="16" y="19" width="1" height="1" fill="#111"/><rect x="19" y="19" width="1" height="1" fill="#111"/><rect x="20" y="19" width="1" height="1" fill="#111"/><rect x="22" y="19" width="1" height="1" fill="#111"/><rect x="24" y="19" width="1" height="1" fill="#111"/><rect x="25" y="19" width="1" height="1" fill="#111"/><rect x="28" y="19" width="1" height="1" fill="#111"/><rect x="2" y="20" width="1" height="1" fill="#111"/><rect x="3" y="20" width="1" height="1" fill="#111"/><rect x="4" y="20" width="1" height="1" fill="#111"/><rect x="8" y="20" width="1" height="1" fill="#111"/><rect x="10" y="20" width="1" height="1" fill="#111"/><rect x="11" y="20" width="1" height="1" fill="#111"/><rect x="12" y="20" width="1" height="1" fill="#111"/><rect x="13" y="20" width="1" height="1" fill="#111"/><rect x="14" y="20" width="1" height="1" fill="#111"/><rect x="15" y="20" width="1" height="1" fill="#111"/><rect x="16" y="20" width="1" height="1" fill="#111"/><rect x="18" y="20" width="1" height="1" fill="#111"/><rect x="19" y="20" width="1" height="1" fill="#111"/><rect x="20" y="20" width="1" height="1" fill="#111"/><rect x="21" y="20" width="1" height="1" fill="#111"/><rect x="22" y="20" width="1" height="1" fill="#111"/><rect x="23" y="20" width="1" height="1" fill="#111"/><rect x="26" y="20" width="1" height="1" fill="#111"/><rect x="27" y="20" width="1" height="1" fill="#111"/><rect x="28" y="20" width="1" height="1" fill="#111"/><rect x="8" y="21" width="1" height="1" fill="#111"/><rect x="10" y="21" width="1" height="1" fill="#111"/><rect x="11" y="21" width="1" height="1" fill="#111"/><rect x="12" y="21" width="1" height="1" fill="#111"/><rect x="14" y="21" width="1" height="1" fill="#111"/><rect x="17" y="21" width="1" height="1" fill="#111"/><rect x="18" y="21" width="1" height="1" fill="#111"/><rect x="19" y="21" width="1" height="1" fill="#111"/><rect x="20" y="21" width="1" height="1" fill="#111"/><rect x="22" y="21" width="1" height="1" fill="#111"/><rect x="23" y="21" width="1" height="1" fill="#111"/><rect x="24" y="21" width="1" height="1" fill="#111"/><rect x="25" y="21" width="1" height="1" fill="#111"/><rect x="26" y="21" width="1" height="1" fill="#111"/><rect x="28" y="21" width="1" height="1" fill="#111"/><rect x="8" y="22" width="1" height="1" fill="#111"/><rect x="9" y="22" width="1" height="1" fill="#111"/><rect x="10" y="22" width="1" height="1" fill="#111"/><rect x="11" y="22" width="1" height="1" fill="#111"/><rect x="12" y="22" width="1" height="1" fill="#111"/><rect x="13" y="22" width="1" height="1" fill="#111"/><rect x="14" y="22" width="1" height="1" fill="#111"/><rect x="15" y="22" width="1" height="1" fill="#111"/><rect x="16" y="22" width="1" height="1" fill="#111"/><rect x="17" y="22" width="1" height="1" fill="#111"/><rect x="18" y="22" width="1" height="1" fill="#111"/><rect x="19" y="22" width="1" height="1" fill="#111"/><rect x="21" y="22" width="1" height="1" fill="#111"/><rect x="24" y="22" width="1" height="1" fill="#111"/><rect x="25" y="22" width="1" height="1" fill="#111"/><rect x="28" y="22" width="1" height="1" fill="#111"/><rect x="8" y="23" width="1" height="1" fill="#111"/><rect x="9" y="23" width="1" height="1" fill="#111"/><rect x="11" y="23" width="1" height="1" fill="#111"/><rect x="12" y="23" width="1" height="1" fill="#111"/><rect x="13" y="23" width="1" height="1" fill="#111"/><rect x="14" y="23" width="1" height="1" fill="#111"/><rect x="16" y="23" width="1" height="1" fill="#111"/><rect x="18" y="23" width="1" height="1" fill="#111"/><rect x="21" y="23" width="1" height="1" fill="#111"/><rect x="23" y="23" width="1" height="1" fill="#111"/><rect x="24" y="23" width="1" height="1" fill="#111"/><rect x="25" y="23" width="1" height="1" fill="#111"/><rect x="26" y="23" width="1" height="1" fill="#111"/><rect x="27" y="23" width="1" height="1" fill="#111"/><rect x="28" y="23" width="1" height="1" fill="#111"/><rect x="8" y="24" width="1" height="1" fill="#111"/><rect x="9" y="24" width="1" height="1" fill="#111"/><rect x="10" y="24" width="1" height="1" fill="#111"/><rect x="12" y="24" width="1" height="1" fill="#111"/><rect x="15" y="24" width="1" height="1" fill="#111"/><rect x="19" y="24" width="1" height="1" fill="#111"/><rect x="20" y="24" width="1" height="1" fill="#111"/><rect x="21" y="24" width="1" height="1" fill="#111"/><rect x="23" y="24" width="1" height="1" fill="#111"/><rect x="24" y="24" width="1" height="1" fill="#111"/><rect x="25" y="24" width="1" height="1" fill="#111"/><rect x="26" y="24" width="1" height="1" fill="#111"/><rect x="27" y="24" width="1" height="1" fill="#111"/><rect x="28" y="24" width="1" height="1" fill="#111"/><rect x="9" y="25" width="1" height="1" fill="#111"/><rect x="11" y="25" width="1" height="1" fill="#111"/><rect x="12" y="25" width="1" height="1" fill="#111"/><rect x="13" y="25" width="1" height="1" fill="#111"/><rect x="14" y="25" width="1" height="1" fill="#111"/><rect x="15" y="25" width="1" height="1" fill="#111"/><rect x="19" y="25" width="1" height="1" fill="#111"/><rect x="22" y="25" width="1" height="1" fill="#111"/><rect x="24" y="25" width="1" height="1" fill="#111"/><rect x="26" y="25" width="1" height="1" fill="#111"/><rect x="28" y="25" width="1" height="1" fill="#111"/><rect x="8" y="26" width="1" height="1" fill="#111"/><rect x="9" y="26" width="1" height="1" fill="#111"/><rect x="11" y="26" width="1" height="1" fill="#111"/><rect x="12" y="26" width="1" height="1" fill="#111"/><rect x="13" y="26" width="1" height="1" fill="#111"/><rect x="14" y="26" width="1" height="1" fill="#111"/><rect x="17" y="26" width="1" height="1" fill="#111"/><rect x="18" y="26" width="1" height="1" fill="#111"/><rect x="19" y="26" width="1" height="1" fill="#111"/><rect x="20" y="26" width="1" height="1" fill="#111"/><rect x="21" y="26" width="1" height="1" fill="#111"/><rect x="22" y="26" width="1" height="1" fill="#111"/><rect x="23" y="26" width="1" height="1" fill="#111"/><rect x="24" y="26" width="1" height="1" fill="#111"/><rect x="26" y="26" width="1" height="1" fill="#111"/><rect x="27" y="26" width="1" height="1" fill="#111"/><rect x="9" y="27" width="1" height="1" fill="#111"/><rect x="10" y="27" width="1" height="1" fill="#111"/><rect x="11" y="27" width="1" height="1" fill="#111"/><rect x="12" y="27" width="1" height="1" fill="#111"/><rect x="13" y="27" width="1" height="1" fill="#111"/><rect x="14" y="27" width="1" height="1" fill="#111"/><rect x="15" y="27" width="1" height="1" fill="#111"/><rect x="16" y="27" width="1" height="1" fill="#111"/><rect x="17" y="27" width="1" height="1" fill="#111"/><rect x="20" y="27" width="1" height="1" fill="#111"/><rect x="21" y="27" width="1" height="1" fill="#111"/><rect x="22" y="27" width="1" height="1" fill="#111"/><rect x="23" y="27" width="1" height="1" fill="#111"/><rect x="24" y="27" width="1" height="1" fill="#111"/><rect x="25" y="27" width="1" height="1" fill="#111"/><rect x="26" y="27" width="1" height="1" fill="#111"/><rect x="28" y="27" width="1" height="1" fill="#111"/><rect x="8" y="28" width="1" height="1" fill="#111"/><rect x="9" y="28" width="1" height="1" fill="#111"/><rect x="11" y="28" width="1" height="1" fill="#111"/><rect x="12" y="28" width="1" height="1" fill="#111"/><rect x="13" y="28" width="1" height="1" fill="#111"/><rect x="14" y="28" width="1" height="1" fill="#111"/><rect x="15" y="28" width="1" height="1" fill="#111"/><rect x="19" y="28" width="1" height="1" fill="#111"/><rect x="20" y="28" width="1" height="1" fill="#111"/><rect x="23" y="28" width="1" height="1" fill="#111"/><rect x="24" y="28" width="1" height="1" fill="#111"/><rect x="25" y="28" width="1" height="1" fill="#111"/><rect x="26" y="28" width="1" height="1" fill="#111"/><rect x="0" y="0" width="7" height="7" fill="#222"/><rect x="1" y="1" width="5" height="5" fill="#fff"/><rect x="2" y="2" width="3" height="3" fill="#111"/><rect x="22" y="0" width="7" height="7" fill="#222"/><rect x="23" y="1" width="5" height="5" fill="#fff"/><rect x="24" y="2" width="3" height="3" fill="#111"/><rect x="0" y="22" width="7" height="7" fill="#222"/><rect x="1" y="23" width="5" height="5" fill="#fff"/><rect x="2" y="24" width="3" height="3" fill="#111"/></svg>
<div class="t" style="top:687px;letter-spacing:-0.15px;left:60.60px;">JOHN CITIZEN</div>
<div class="t" style="top:696px;letter-spacing:-0.15px;left:60.60px;">ANY STREET 123</div>
<div class="t" style="top:705px;letter-spacing:-0.15px;left:60.60px;">ANY TOWN</div>
<div class="t" style="top:698px;letter-spacing:-0.15px;left:361.40px;">CITY OF FOSTER CITY/EMID</div>
<div class="t" style="top:708px;letter-spacing:-0.15px;left:361.40px;">UTILITY BILLING</div>
<div class="t" style="top:718px;letter-spacing:-0.15px;left:361.40px;">610 FOSTER CITY BLVD.</div>
<div class="t" style="top:728px;letter-spacing:-0.15px;left:361.40px;">FOSTER CITY, CA 94404-2222</div>
<div class="wm"><span style="color:#2d7560">AMIGOSDEPELOTAS</span><span style="color:#2b2b2b">.COM</span></div>
</body></html>
